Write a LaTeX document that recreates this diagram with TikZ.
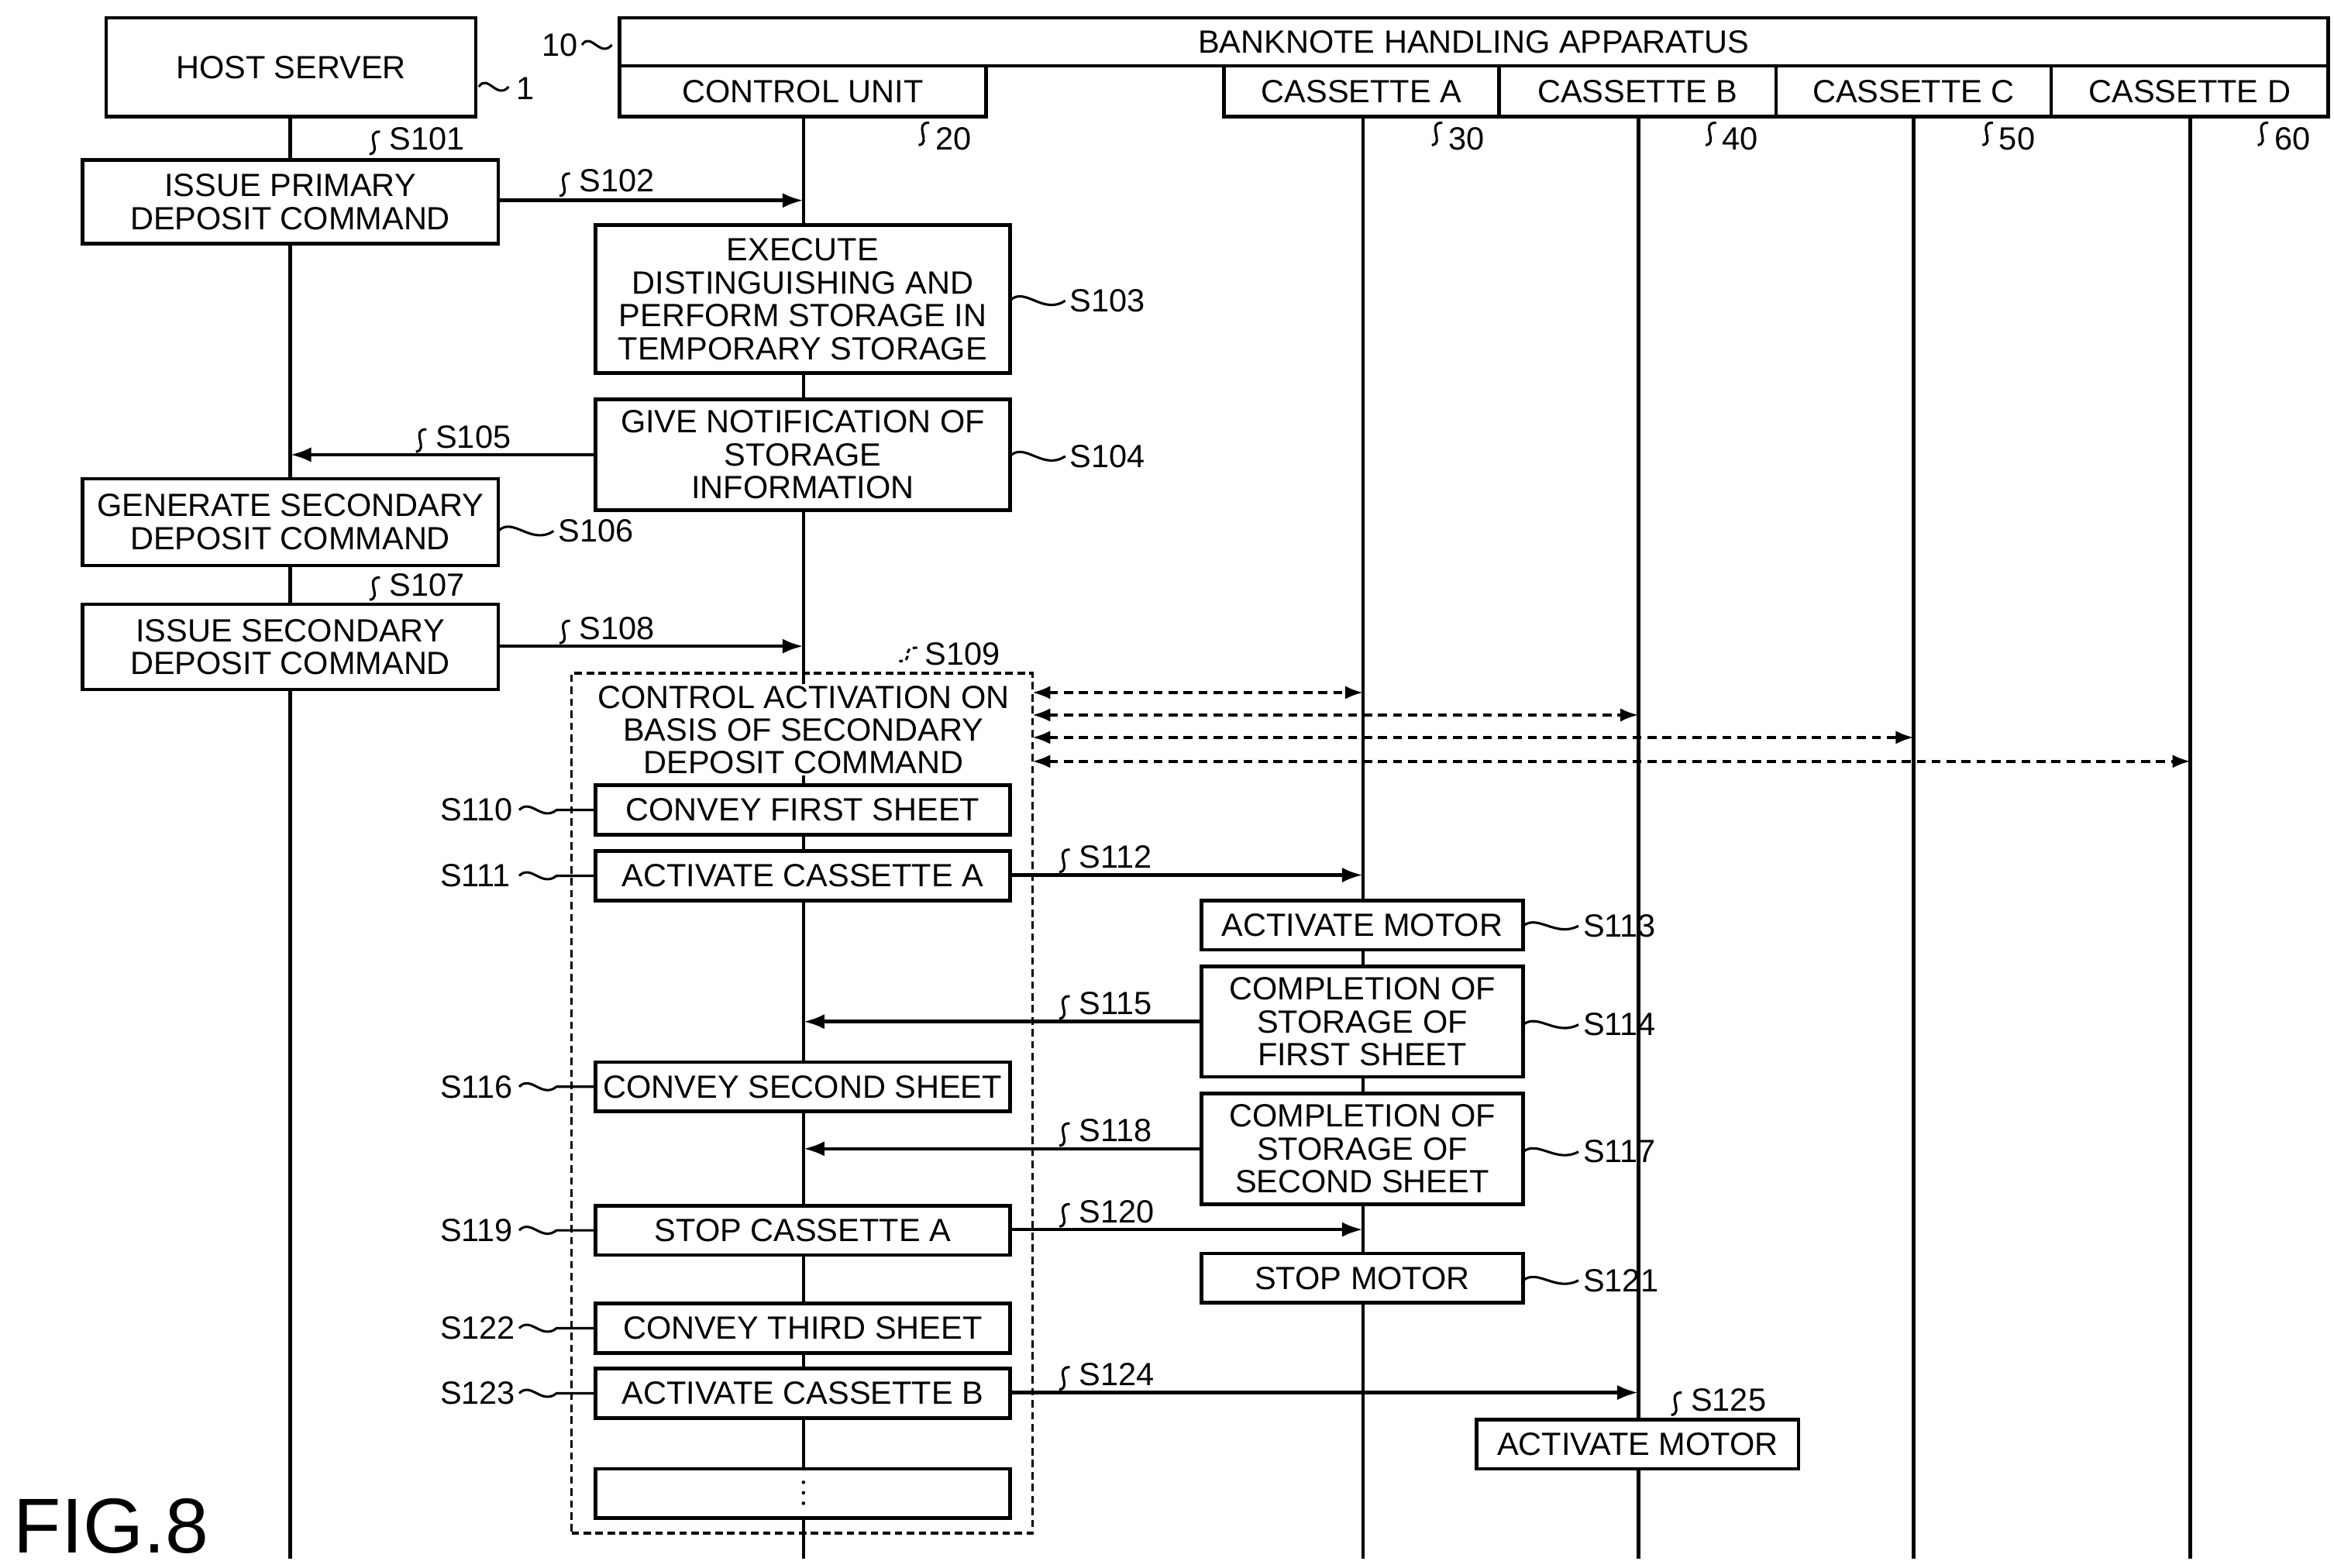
\documentclass[tikz,border=0pt]{standalone}
\usepackage{fontspec}
\setmainfont{Liberation Sans}
\usetikzlibrary{arrows.meta}
\begin{document}
\begin{tikzpicture}[x=1pt,y=-1pt,line width=2.4pt,
 every node/.style={font=\fontsize{21.5}{22}\selectfont},
 box/.style={draw,fill=white,align=center,inner sep=0pt},
 lbl/.style={inner sep=0pt,anchor=west},
 arr/.style={-{Latex[length=14pt,width=10pt]},line width=2.4pt},
 darr/.style={{Latex[length=12pt,width=9pt]}-{Latex[length=12pt,width=9pt]},dash pattern=on 6pt off 4pt,line width=1.8pt},
 sq/.style={line width=1.6pt}]
\useasboundingbox (0,0) rectangle (1560,1048);
% lifelines
\foreach \n/\x in {h/194,c/537,a/911,b/1095,cc/1279,d/1464}{
 \coordinate (\n top) at (\x,78); \coordinate (\n bot) at (\x,1042);
 \draw (\n top) -- (\n bot);}
% header boxes
\node[box,minimum width=247,minimum height=66] (host) at (194.5,45) {HOST SERVER};
\node[box,minimum width=1142,minimum height=32] (bha) at (985,28) {BANKNOTE HANDLING APPARATUS};
\node[box,minimum width=245,minimum height=34] (cu) at (536.5,61) {CONTROL UNIT};
\node[box,minimum width=184,minimum height=34] (ca) at (910,61) {CASSETTE A};
\node[box,minimum width=185,minimum height=34] (cb) at (1094.5,61) {CASSETTE B};
\node[box,minimum width=184,minimum height=34] (ccc) at (1279,61) {CASSETTE C};
\node[box,minimum width=185,minimum height=34] (cd) at (1463.5,61) {CASSETTE D};
% reference labels
\newcommand{\rsq}[2]{\draw[sq,shift={(#1,#2)}] (0,0) .. controls (6,-9) and (12,9) .. (20,0);}
\newcommand{\tsq}[2]{\draw[sq,shift={(#1,#2)}] (7,-8) .. controls (-4,-8) and (9,6) .. (0,7);}
\rsq{320}{58}\node[lbl] (l1) at (344,59) {1};
\rsq{389}{30}\node[lbl] (l10) at (361,30) {10};
\tsq{614}{90}\node[lbl] (l20) at (624,93) {20};
\tsq{957}{90}\node[lbl] (l30) at (967,93) {30};
\tsq{1140}{90}\node[lbl] (l40) at (1150,93) {40};
\tsq{1325}{90}\node[lbl] (l50) at (1335,93) {50};
\tsq{1509}{90}\node[lbl] (l60) at (1519,93) {60};
% boxes
\node[box,minimum width=278,minimum height=56] (b101) at (194,135) {ISSUE PRIMARY\\DEPOSIT COMMAND};
\tsq{247}{96}\node[lbl] (s101) at (259,93) {S101};
\draw[arr] (b101.east|-0,134) -- (537,134);
\tsq{374}{124}\node[lbl] (s102) at (386,121) {S102};
\node[box,minimum width=277,minimum height=99] (b103) at (536.5,200) {EXECUTE\\DISTINGUISHING AND\\PERFORM STORAGE IN\\TEMPORARY STORAGE};
\draw[sq] (675,201) .. controls (685,191) and (697,211) .. (712,201);
\node[lbl] (s103) at (714,201) {S103};
\node[box,minimum width=277,minimum height=74] (b104) at (536.5,304) {GIVE NOTIFICATION OF\\STORAGE\\INFORMATION};
\draw[sq] (675,305) .. controls (685,295) and (697,315) .. (712,305);
\node[lbl] (s104) at (714,305) {S104};
\draw[arr] (b104.west|-0,304) -- (194,304);
\tsq{278}{295}\node[lbl] (s105) at (290,292) {S105};
\node[box,minimum width=278,minimum height=58] (b106) at (194,349) {GENERATE SECONDARY\\DEPOSIT COMMAND};
\draw[sq] (333,355) .. controls (343,345) and (355,365) .. (370,355);
\node[lbl] (s106) at (372,355) {S106};
\tsq{247}{394}\node[lbl] (s107) at (259,391) {S107};
\node[box,minimum width=278,minimum height=57] (b108) at (194,432.5) {ISSUE SECONDARY\\DEPOSIT COMMAND};
\draw[arr] (b108.east|-0,432) -- (537,432);
\tsq{374}{423}\node[lbl] (s108) at (386,420) {S108};
% dashed region
\node[draw,dash pattern=on 5pt off 3pt,line width=1.8pt,fill=white,minimum width=308,minimum height=575,inner sep=0pt] (b109) at (536,737.5) {};
\draw (537,450) -- (537,1025);
\draw[sq,dash pattern=on 3pt off 2pt] (613,433) .. controls (601,433) and (612,442) .. (601,442);
\node[lbl] (s109) at (617,437) {S109};
\node[align=center,fill=white,inner sep=1pt] (t109) at (537,488) {CONTROL ACTIVATION ON\\BASIS OF SECONDARY\\DEPOSIT COMMAND};
\draw[darr] (690,463) -- (911,463);
\draw[darr] (690,478) -- (1095,478);
\draw[darr] (690,493) -- (1279,493);
\draw[darr] (690,509) -- (1464,509);
% left-labelled boxes
\newcommand{\lbox}[4]{\node[box,minimum width=277,minimum height=33] (#1) at (536.5,#2) {#4};
 \node[lbl] at (293,#2) {#3};
 \draw[sq] (347,#2) .. controls (355,#2-8) and (362,#2+8) .. (372,#2) -- (398,#2);}
\lbox{b110}{541.5}{S110}{CONVEY FIRST SHEET}
\lbox{b111}{585.5}{S111}{ACTIVATE CASSETTE A}
\lbox{b116}{726.5}{S116}{CONVEY SECOND SHEET}
\lbox{b119}{822.5}{S119}{STOP CASSETTE A}
\lbox{b122}{888}{S122}{CONVEY THIRD SHEET}
\lbox{b123}{931.5}{S123}{ACTIVATE CASSETTE B}
\node[box,minimum width=277,minimum height=33] (bdots) at (536.5,998.5) {};
\foreach \yy in {991,998,1005} \fill (537,\yy) circle (1.2pt);
% cassette side
\newcommand{\rlab}[3]{\draw[sq] (1018,#1) .. controls (1028,#1-8) and (1040,#1+8) .. (1055,#1);
 \node[lbl] (#3) at (1057,#1) {#2};}
\draw[arr] (b111.east|-0,585) -- (911,585);
\tsq{708}{576}\node[lbl] (s112) at (720,573) {S112};
\node[box,minimum width=215,minimum height=33] (b113) at (910.5,618.5) {ACTIVATE MOTOR};
\rlab{619}{S113}{s113}
\node[box,minimum width=215,minimum height=74] (b114) at (910.5,683) {COMPLETION OF\\STORAGE OF\\FIRST SHEET};
\rlab{685}{S114}{s114}
\draw[arr] (b114.west|-0,683) -- (537,683);
\tsq{708}{674}\node[lbl] (s115) at (720,671) {S115};
\node[box,minimum width=215,minimum height=74] (b117) at (910.5,768) {COMPLETION OF\\STORAGE OF\\SECOND SHEET};
\rlab{770}{S117}{s117}
\draw[arr] (b117.west|-0,768) -- (537,768);
\tsq{708}{759}\node[lbl] (s118) at (720,756) {S118};
\draw[arr] (b119.east|-0,822) -- (911,822);
\tsq{708}{813}\node[lbl] (s120) at (720,810) {S120};
\node[box,minimum width=215,minimum height=33] (b121) at (910.5,854.5) {STOP MOTOR};
\rlab{856}{S121}{s121}
\draw[arr] (b123.east|-0,931) -- (1095,931);
\tsq{708}{922}\node[lbl] (s124) at (720,919) {S124};
\tsq{1117}{939}\node[lbl] (s125) at (1129,936) {S125};
\node[box,minimum width=215,minimum height=33] (b125) at (1094.5,965.5) {ACTIVATE MOTOR};
\node[anchor=south west,inner sep=0pt,font=\fontsize{52}{52}\selectfont] (fig) at (8,1040) {FIG.8};
\end{tikzpicture}
\end{document}
